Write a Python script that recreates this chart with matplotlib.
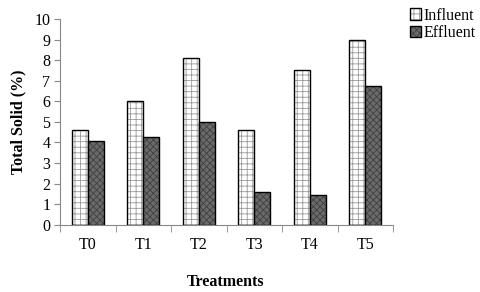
import numpy as np
import matplotlib.pyplot as plt

plt.rcParams['font.family'] = ['Liberation Serif', 'DejaVu Serif']
plt.rcParams['hatch.linewidth'] = 0.6

treatments = ["T0", "T1", "T2", "T3", "T4", "T5"]
influent = [4.6, 6.0, 8.1, 4.6, 7.5, 9.0]
effluent = [4.05, 4.25, 5.0, 1.6, 1.45, 6.75]

x = np.arange(len(treatments))
w = 0.29
fs = 11.5

fig = plt.figure(figsize=(4.8, 2.92), dpi=100)
ax = fig.add_axes([0.125, 0.23, 0.694, 0.705])

b1 = ax.bar(x - w/2, influent, w, facecolor="white", edgecolor="black", linewidth=1.0,
            hatch="+++", label="Influent")
for b in b1:
    b._hatch_color = (0.6, 0.6, 0.6, 1)
b2 = ax.bar(x + w/2, effluent, w, facecolor="#6a6a6a", edgecolor="black", linewidth=1.0,
            hatch="xxxxx", label="Effluent")
for b in b2:
    b._hatch_color = (0.25, 0.25, 0.25, 1)

ax.set_xlim(-0.5, len(treatments) - 0.5)
ax.set_ylim(0, 10)
ax.set_yticks(range(0, 11))
ax.set_xticks(x)
ax.set_xticklabels(treatments)
ax.set_xticks(np.arange(-0.5, len(treatments)), minor=True)
ax.tick_params(axis="x", which="major", length=0, labelsize=fs, pad=9)
ax.tick_params(axis="x", which="minor", length=5, color="#888888", direction="out")
ax.tick_params(axis="y", length=4, color="#888888", labelsize=fs, pad=3)

for s in ["top", "right"]:
    ax.spines[s].set_visible(False)
for s in ["left", "bottom"]:
    ax.spines[s].set_color("#888888")

ax.set_ylabel("Total Solid (%)", fontweight="bold", fontsize=fs, labelpad=6)
fig.text(0.47, 0.02, "Treatments", fontweight="bold", fontsize=fs, ha="center")

fig.legend(handles=[b1, b2], loc="upper left", bbox_to_anchor=(0.83, 1.012), frameon=False,
           fontsize=fs, handlelength=0.7, handleheight=0.7, handletextpad=0.2,
           labelspacing=0.1, borderpad=0.2)

fig.savefig("out.png", dpi=100)
